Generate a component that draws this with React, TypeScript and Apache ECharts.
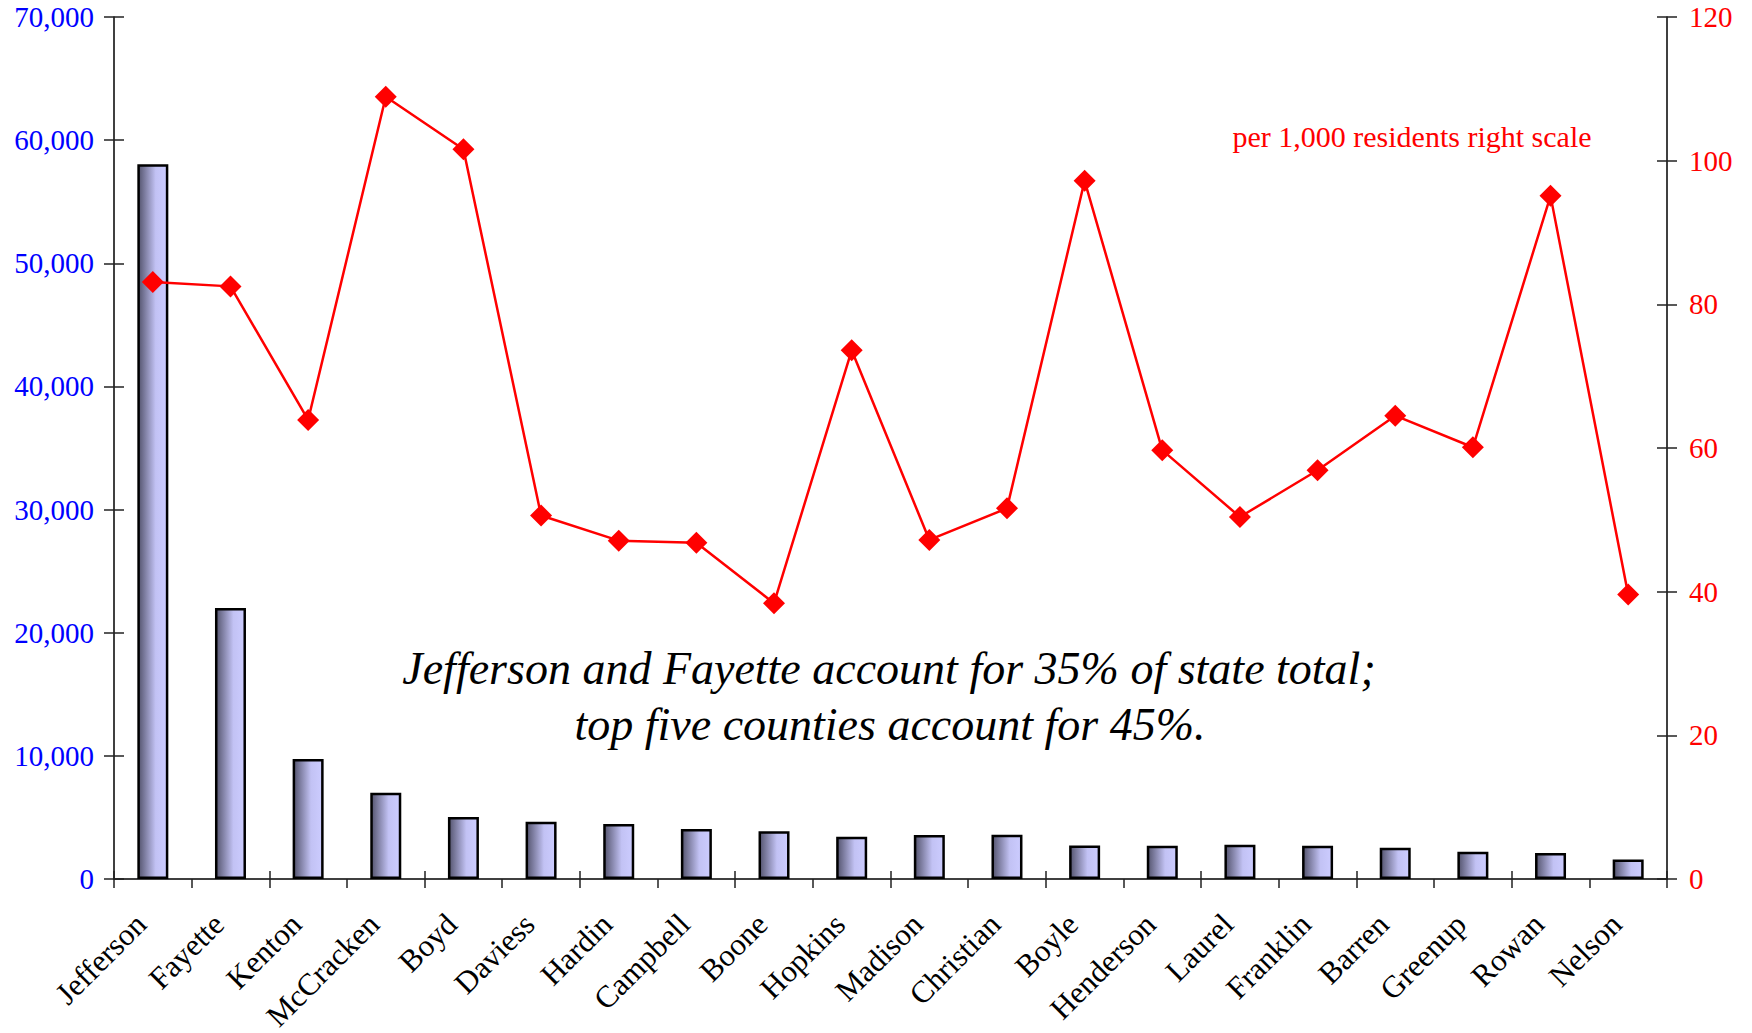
import React, { useEffect, useRef } from "react";
import * as echarts from "echarts";

const categories = [
  "Jefferson", "Fayette", "Kenton", "McCracken", "Boyd", "Daviess", "Hardin",
  "Campbell", "Boone", "Hopkins", "Madison", "Christian", "Boyle", "Henderson",
  "Laurel", "Franklin", "Barren", "Greenup", "Rowan", "Nelson",
];
const counts = [
  58050, 22000, 9750, 7000, 5040, 4650, 4470, 4060, 3870, 3440,
  3570, 3600, 2730, 2710, 2790, 2710, 2540, 2220, 2110, 1590,
];
const ratesPer1000 = [
  83.1, 82.5, 63.9, 108.9, 101.6, 50.6, 47.1, 46.8, 38.4, 73.6,
  47.2, 51.6, 97.2, 59.7, 50.4, 56.9, 64.5, 60.1, 95.1, 39.6,
];
const leftScale = { min: 0, max: 70000, interval: 10000 };
const rightScale = { min: 0, max: 120, interval: 20 };
const noteLines = [
  "Jefferson and Fayette account for 35% of state total;",
  "top five counties account for 45%.",
];
const scaleNote = "per 1,000 residents right scale";

const FONT = "'Liberation Serif', 'Times New Roman', serif";

export default function App() {
  const ref = useRef<HTMLDivElement>(null);

  useEffect(() => {
    document.body.style.margin = "0";
    if (!ref.current) return;
    const chart = echarts.init(ref.current, null, { renderer: "svg" });
    const axisLineStyle = { color: "#000", width: 1.5 };
    const tickStyle = { color: "#222", width: 1.5 };

    chart.setOption({
      animation: false,
      backgroundColor: "#fff",
      grid: {
        left: 114,
        right: 85,
        top: 17,
        bottom: 154,
        containLabel: false,
        outerBoundsMode: "none",
      },
      xAxis: [
        {
          type: "category",
          data: categories,
          position: "bottom",
          axisLine: { show: true, lineStyle: axisLineStyle },
          axisTick: { show: true, length: 9, lineStyle: tickStyle },
          axisLabel: {
            rotate: 45,
            interval: 0,
            margin: 52,
            verticalAlign: "bottom",
            lineHeight: 34,
            color: "#000",
            fontFamily: FONT,
            fontSize: 31,
          },
          splitLine: { show: false },
        },
        {
          type: "category",
          data: categories,
          position: "bottom",
          axisLine: { show: false },
          axisTick: { show: true, inside: true, length: 8, lineStyle: tickStyle },
          axisLabel: { show: false },
          splitLine: { show: false },
        },
      ],
      yAxis: [
        {
          type: "value",
          position: "left",
          ...leftScale,
          axisLine: { show: true, lineStyle: axisLineStyle },
          axisTick: { show: true, length: 10, lineStyle: tickStyle },
          axisLabel: {
            color: "#0000ff",
            fontFamily: FONT,
            fontSize: 29,
            margin: 20,
            formatter: (v: number) => v.toLocaleString("en-US"),
          },
          splitLine: { show: false },
        },
        {
          type: "value",
          position: "right",
          ...rightScale,
          axisLine: { show: true, lineStyle: axisLineStyle },
          axisTick: { show: true, length: 10, lineStyle: tickStyle },
          axisLabel: {
            color: "#ff0000",
            fontFamily: FONT,
            fontSize: 29,
            margin: 22,
          },
          splitLine: { show: false },
        },
        {
          type: "value",
          position: "left",
          ...leftScale,
          axisLine: { show: false },
          axisTick: { show: true, inside: true, length: 10, lineStyle: tickStyle },
          axisLabel: { show: false },
          splitLine: { show: false },
        },
        {
          type: "value",
          position: "right",
          ...rightScale,
          axisLine: { show: false },
          axisTick: { show: true, inside: true, length: 10, lineStyle: tickStyle },
          axisLabel: { show: false },
          splitLine: { show: false },
        },
      ],
      series: [
        {
          type: "bar",
          name: "Count",
          xAxisIndex: 0,
          yAxisIndex: 0,
          data: counts,
          barWidth: 31,
          itemStyle: {
            color: new echarts.graphic.LinearGradient(0, 0, 1, 0, [
              { offset: 0, color: "#55556f" },
              { offset: 0.6, color: "#c2c2f4" },
              { offset: 1, color: "#ccccff" },
            ]),
            borderColor: "#000",
            borderWidth: 2.5,
          },
          z: 2,
        },
        {
          type: "line",
          name: "Per 1,000 residents",
          xAxisIndex: 0,
          yAxisIndex: 1,
          data: ratesPer1000,
          symbol: "diamond",
          symbolSize: 22,
          lineStyle: { color: "#ff0000", width: 2.5 },
          itemStyle: { color: "#ff0000" },
          z: 3,
        },
      ],
      graphic: [
        {
          type: "text",
          x: 1412,
          y: 136,
          style: {
            text: scaleNote,
            fill: "#ff0000",
            font: `30px ${FONT}`,
            align: "center",
            verticalAlign: "middle",
          },
          z: 10,
        },
        {
          type: "text",
          x: 889,
          y: 668,
          style: {
            text: noteLines[0],
            fill: "#000",
            font: `italic 46px ${FONT}`,
            align: "center",
            verticalAlign: "middle",
          },
          z: 10,
        },
        {
          type: "text",
          x: 890,
          y: 724,
          style: {
            text: noteLines[1],
            fill: "#000",
            font: `italic 46px ${FONT}`,
            align: "center",
            verticalAlign: "middle",
          },
          z: 10,
        },
      ],
    });

    return () => chart.dispose();
  }, []);

  return <div ref={ref} style={{ width: 1752, height: 1033 }} />;
}
